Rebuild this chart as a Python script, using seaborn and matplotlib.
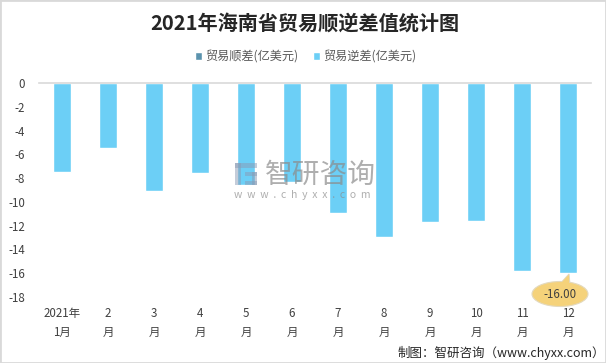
import matplotlib
matplotlib.use("Agg")
import matplotlib.pyplot as plt
import seaborn as sns
import pandas as pd
from matplotlib.patches import Ellipse, Polygon, Rectangle

# 数据
months = ["2021年\n1月", "2\n月", "3\n月", "4\n月", "5\n月", "6\n月",
          "7\n月", "8\n月", "9\n月", "10\n月", "11\n月", "12\n月"]
surplus = [0, 0, 0, 0, 0, 0, 0, 0, 0, 0, 0, 0]
deficit = [-7.5, -5.5, -9.1, -7.6, -8.6, -8.3, -10.9, -12.95, -11.65, -11.6, -15.8, -16.0]
yticks = [0, -2, -4, -6, -8, -10, -12, -14, -16, -18]
series_names = ["贸易顺差(亿美元)", "贸易逆差(亿美元)"]

sns.set_theme(style="white")
plt.rcParams["font.family"] = ["Noto Sans CJK SC", "DejaVu Sans"]
plt.rcParams["axes.unicode_minus"] = False

W, H = 606, 363
fig = plt.figure(figsize=(W / 100, H / 100), dpi=100)
ax = fig.add_axes([39 / W, 1 - 297 / H, 552 / W, 214 / H])

df = pd.DataFrame({
    "month": months * 2,
    "value": surplus + deficit,
    "series": [series_names[0]] * 12 + [series_names[1]] * 12,
})
sns.barplot(data=df, x="month", y="value", hue="series", dodge=False, width=0.4,
            palette=["#5B93AE", "#6CCFF6"], saturation=1, ax=ax)

ax.set_xlim(-0.5, 11.5)
ax.set_ylim(-18, 0)
ax.set_yticks(yticks)
ax.set_xlabel("")
ax.set_ylabel("")
for s in ["left", "right", "bottom"]:
    ax.spines[s].set_visible(False)
ax.spines["top"].set_color("#D9D9D9")
ax.spines["top"].set_linewidth(1.2)
ax.tick_params(axis="both", length=0, labelsize=8.3, labelcolor="#404040")
ax.tick_params(axis="y", pad=10)
ax.tick_params(axis="x", pad=7.5)
for lab in ax.get_xticklabels():
    lab.set_linespacing(1.6)

leg = ax.legend(loc="center", bbox_to_anchor=(305.5 / W, 1 - 57 / H), bbox_transform=fig.transFigure,
                ncol=2, frameon=False, fontsize=8.75, handlelength=0.6, handleheight=0.6,
                handletextpad=0.25, columnspacing=1.2, labelcolor="#595959")

fig.text(305 / W, 1 - 23 / H, "2021年海南省贸易顺逆差值统计图", ha="center", va="center",
         fontsize=14.5, fontweight="bold", color="#262626")

# 气泡标注
bubble = "#F5D27A"
fig.add_artist(Polygon([(559 / W, 1 - 285 / H), (569 / W, 1 - 274 / H), (570 / W, 1 - 285 / H)],
                       transform=fig.transFigure, fc=bubble, ec="#E3D9BE", lw=0.8))
fig.add_artist(Ellipse((560 / W, 1 - 294 / H), 56 / W, 25 / H, transform=fig.transFigure,
                       fc=bubble, ec="#E3D9BE", lw=0.8))
fig.add_artist(Polygon([(560 / W, 1 - 284 / H), (569 / W, 1 - 275 / H), (569 / W, 1 - 285 / H)],
                       transform=fig.transFigure, fc=bubble, ec="none"))
fig.text(560 / W, 1 - 294 / H, "-16.00", ha="center", va="center", fontsize=8.3, color="#404040")

# 水印
for x, y, w, h in [(235, 163, 22, 5), (235, 163, 6, 22), (245, 172, 12, 4), (252, 172, 5, 13), (245, 181, 12, 4)]:
    fig.add_artist(Rectangle((x / W, 1 - (y + h) / H), w / W, h / H, transform=fig.transFigure,
                             fc="#8A9BB5", ec="none", alpha=0.5))
fig.text(265 / W, 1 - 175 / H, "智研咨询", ha="left", va="center", fontsize=20, color="#8C8C8C", alpha=0.7)
fig.text(234 / W, 1 - 195 / H, "w  w  w  .  c  h  y  x  x  .  c  o  m", ha="left", va="center", fontsize=7.5,
         color="#8C8C8C", alpha=0.7)

fig.text(605 / W, 1 - 353 / H, "制图：智研咨询（www.chyxx.com）", ha="right", va="center",
         fontsize=9, color="#262626")

# 外框
fig.add_artist(Rectangle((0, 0), 1, 1, transform=fig.transFigure, fill=False, ec="#D9D9D9", lw=2))

fig.savefig("out.png", dpi=100)
